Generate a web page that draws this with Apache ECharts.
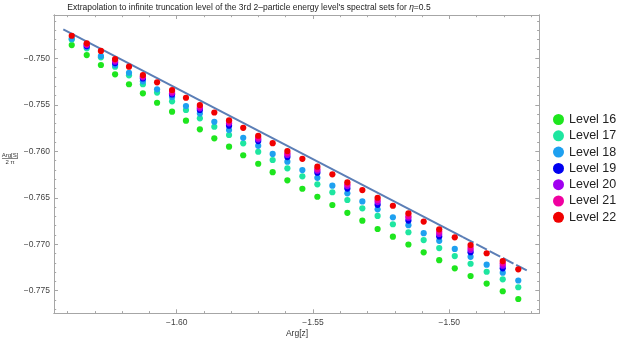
<!DOCTYPE html>
<html><head><meta charset="utf-8">
<script src="https://cdn.jsdelivr.net/npm/echarts@6/dist/echarts.min.js"></script>
<style>html,body{margin:0;padding:0;background:#fff}#c{width:623px;height:342px}</style>
</head><body><div id="c"></div>
<script>
// x positions (Arg[z]) of the columns
const xCols = [-1.6385, -1.6330, -1.6278, -1.6226, -1.6175, -1.6124, -1.6072, -1.6017, -1.5966, -1.5915,
  -1.5862, -1.5808, -1.5756, -1.5701, -1.5648, -1.5594, -1.5539, -1.5484, -1.5429, -1.5374,
  -1.5319, -1.5263, -1.5207, -1.5150, -1.5094, -1.5037, -1.4980, -1.4922, -1.4863, -1.4804, -1.4747];
const xEven = [-1.6330, -1.6226, -1.6124, -1.6017, -1.5915, -1.5808, -1.5701, -1.5594, -1.5484, -1.5374,
  -1.5263, -1.5150, -1.5037, -1.4922, -1.4804];

const level16 = [-0.74857, -0.74965, -0.75072, -0.75172, -0.75279, -0.75377, -0.75478, -0.75574, -0.75671, -0.75764,
  -0.75861, -0.75951, -0.76043, -0.76134, -0.76225, -0.76312, -0.76403, -0.76489, -0.76578, -0.76662,
  -0.76747, -0.76836, -0.76919, -0.77003, -0.77087, -0.77172, -0.77259, -0.77342, -0.77423, -0.77506, -0.77589];
const level17 = [-0.74798, -0.74892, -0.74989, -0.75090, -0.75183, -0.75279, -0.75368, -0.75463, -0.75556, -0.75645,
  -0.75736, -0.75825, -0.75914, -0.76005, -0.76094, -0.76183, -0.76269, -0.76355, -0.76441, -0.76524,
  -0.76614, -0.76696, -0.76785, -0.76871, -0.76955, -0.77041, -0.77127, -0.77210, -0.77296, -0.77377, -0.77463];
const level18 = [-0.74789, -0.74878, -0.74975, -0.75072, -0.75155, -0.75247, -0.75334, -0.75416, -0.75513, -0.75594,
  -0.75683, -0.75771, -0.75855, -0.75941, -0.76029, -0.76112, -0.76202, -0.76286, -0.76370, -0.76452,
  -0.76540, -0.76624, -0.76710, -0.76795, -0.76881, -0.76963, -0.77051, -0.77135, -0.77220, -0.77306, -0.77390];
const level19 = [-0.74868, -0.75051, -0.75217, -0.75389, -0.75556, -0.75725, -0.75890, -0.76062, -0.76231, -0.76401,
  -0.76576, -0.76745, -0.76917, -0.77086, -0.77259];
const level20 = [-0.74857, -0.75037, -0.75204, -0.75377, -0.75538, -0.75699, -0.75871, -0.76040, -0.76209, -0.76374,
  -0.76546, -0.76715, -0.76890, -0.77062, -0.77231];
const level21 = [-0.74849, -0.75022, -0.75194, -0.75359, -0.75521, -0.75682, -0.75854, -0.76022, -0.76191, -0.76355,
  -0.76524, -0.76696, -0.76865, -0.77037, -0.77205];
const level22 = [-0.74757, -0.74839, -0.74921, -0.75008, -0.75090, -0.75180, -0.75258, -0.75341, -0.75424, -0.75502,
  -0.75583, -0.75667, -0.75748, -0.75833, -0.75913, -0.75997, -0.76081, -0.76166, -0.76248, -0.76334,
  -0.76417, -0.76500, -0.76586, -0.76667, -0.76756, -0.76840, -0.76926, -0.77008, -0.77097, -0.77181, -0.77270];

const levelNames = ['Level 16', 'Level 17', 'Level 18', 'Level 19', 'Level 20', 'Level 21', 'Level 22'];
const levelColors = ['#1ee61e', '#1ee6a0', '#1ea0f0', '#0000f0', '#a000f0', '#f000a0', '#f00000'];

// extrapolation fit line
const fitX = [-1.6416, -1.4950, -1.4707];
const fitY = [-0.74688, -0.76924, -0.77296];

const xMajorTicks = [-1.60, -1.55, -1.50];
const xMinorTicks = [-1.64, -1.63, -1.62, -1.61, -1.59, -1.58, -1.57, -1.56, -1.54, -1.53, -1.52, -1.51, -1.49, -1.48, -1.47];
const yMajorTicks = [-0.750, -0.755, -0.760, -0.765, -0.770, -0.775];
const yMinorTicks = [-0.746, -0.747, -0.748, -0.749, -0.751, -0.752, -0.753, -0.754, -0.756, -0.757, -0.758, -0.759,
  -0.761, -0.762, -0.763, -0.764, -0.766, -0.767, -0.768, -0.769, -0.771, -0.772, -0.773, -0.774, -0.776, -0.777];

const X_MIN = -1.64501, X_MAX = -1.46699, Y_MIN = -0.77743, Y_MAX = -0.74534;
const FONT = 'Liberation Sans, Arial, sans-serif';
const FRAME = '#a6a6a6';

function pairs(xs, ys) { return ys.map((y, i) => [xs[i], y]); }
const levelData = [
  pairs(xCols, level16), pairs(xCols, level17), pairs(xCols, level18),
  pairs(xEven, level19), pairs(xEven, level20), pairs(xEven, level21), pairs(xCols, level22)
];

function mkX(pos, ticks, len, labels) {
  return {
    type: 'value', position: pos, min: X_MIN, max: X_MAX,
    axisLine: { show: true, onZero: false, lineStyle: { color: FRAME, width: 1 } },
    splitLine: { show: false },
    axisTick: { show: true, inside: true, length: len, customValues: ticks, lineStyle: { color: FRAME } },
    axisLabel: labels ? {
      show: true, customValues: xMajorTicks, margin: 5, fontSize: 8.5, fontFamily: FONT, color: '#444',
      formatter: v => v.toFixed(2).replace('-', '\u2212')
    } : { show: false }
  };
}
function mkY(pos, ticks, len, labels) {
  return {
    type: 'value', position: pos, min: Y_MIN, max: Y_MAX,
    axisLine: { show: true, onZero: false, lineStyle: { color: FRAME, width: 1 } },
    splitLine: { show: false },
    axisTick: { show: true, inside: true, length: len, customValues: ticks, lineStyle: { color: FRAME } },
    axisLabel: labels ? {
      show: true, customValues: yMajorTicks, margin: 4, fontSize: 8.5, fontFamily: FONT, color: '#444',
      formatter: v => v.toFixed(3).replace('-', '\u2212')
    } : { show: false }
  };
}

const series = levelNames.map((name, i) => ({
  name, type: 'scatter', xAxisIndex: 0, yAxisIndex: 0,
  data: levelData[i], symbol: 'circle', symbolSize: 6.2,
  itemStyle: { color: levelColors[i], opacity: 1 }, z: 3 + i
}));
series.push({
  name: 'fit', type: 'line', xAxisIndex: 0, yAxisIndex: 0, showSymbol: false, z: 2,
  data: [[fitX[0], fitY[0]], [fitX[1], fitY[1]]],
  lineStyle: { color: '#5b7eb6', width: 2 }
});
series.push({
  name: 'fit2', type: 'line', xAxisIndex: 0, yAxisIndex: 0, showSymbol: false, z: 2,
  data: [[fitX[1], fitY[1]], [fitX[2], fitY[2]]],
  lineStyle: { color: '#5b7eb6', width: 2, type: [12, 3] }
});

const chart = echarts.init(document.getElementById('c'), null, { renderer: 'canvas' });
chart.setOption({
  animation: false,
  backgroundColor: '#fff',
  grid: { left: 54, right: 83.7, top: 15, bottom: 28.7, containLabel: false },
  xAxis: [
    mkX('bottom', xMajorTicks, 4, true),
    mkX('bottom', xMinorTicks, 2.2, false),
    mkX('top', xMajorTicks, 4, false),
    mkX('top', xMinorTicks, 2.2, false)
  ],
  yAxis: [
    mkY('left', yMajorTicks, 4, true),
    mkY('left', yMinorTicks, 2.2, false),
    mkY('right', yMajorTicks, 4, false),
    mkY('right', yMinorTicks, 2.2, false)
  ],
  legend: {
    data: levelNames, orient: 'vertical', left: 553, top: 113, padding: 0,
    itemWidth: 11, itemHeight: 11, itemGap: 3.3, icon: 'circle',
    textStyle: { fontSize: 12.5, fontFamily: FONT, color: '#222' }
  },
  graphic: [
    {
      type: 'text', x: 249, y: 8,
      style: {
        text: '{a|Extrapolation to infinite truncation level of the 3rd 2\u2013particle energy level\'s spectral sets for }{i|\u03b7}{a|=0.5}',
        align: 'center', verticalAlign: 'middle',
        rich: {
          a: { fontSize: 8.5, fontFamily: FONT, fill: '#222' },
          i: { fontSize: 8.5, fontFamily: FONT, fontStyle: 'italic', fill: '#222' }
        }
      }
    },
    { type: 'text', x: 297, y: 334, style: { text: 'Arg[z]', fontSize: 8.5, fontFamily: FONT, fill: '#333', align: 'center', verticalAlign: 'middle' } },
    { type: 'text', x: 10, y: 155, style: { text: 'Arg[S]', fontSize: 6, fontFamily: FONT, fill: '#333', align: 'center', verticalAlign: 'middle' } },
    { type: 'line', shape: { x1: 2, y1: 158.5, x2: 18, y2: 158.5 }, style: { stroke: '#333', lineWidth: 0.6 } },
    { type: 'text', x: 10, y: 162, style: { text: '2 \u03c0', fontSize: 6, fontFamily: FONT, fill: '#333', align: 'center', verticalAlign: 'middle' } }
  ],
  series
});
</script>
</body></html>
